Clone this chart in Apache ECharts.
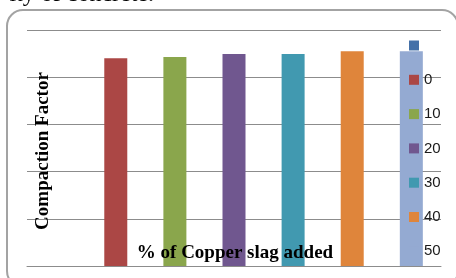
<!DOCTYPE html>
<html>
<head>
<meta charset="utf-8">
<script src="https://cdn.jsdelivr.net/npm/echarts@6/dist/echarts.min.js"></script>
<style>
  html, body { margin: 0; padding: 0; background: #fff; }
  #chart { width: 456px; height: 278px; }
</style>
</head>
<body>
<div id="chart"></div>
<script>
// 数据
const categories = [''];
const seriesNames = [' ', '0', '10', '20', '30', '40', '50'];
const compactionValues = [null, 0.88, 0.886, 0.898, 0.898, 0.91, 0.91];
const seriesColors = ['#4571A8', '#AB4745', '#8AA64C', '#70578F', '#4199B0', '#DF853B', '#94AAD2'];

const chart = echarts.init(document.getElementById('chart'));

const gridColor = '#8c8c8c';
const serif = '"Liberation Serif", "Times New Roman", serif';

const option = {
    animation: false,
    grid: { left: 27, right: 15, top: 30, bottom: 12 },
    xAxis: {
        type: 'category',
        data: categories,
        axisLine: { lineStyle: { color: gridColor, width: 1 } },
        axisTick: { show: false },
        axisLabel: { show: false }
    },
    yAxis: {
        type: 'value',
        min: 0,
        max: 1,
        interval: 0.2,
        axisLine: { show: false },
        axisTick: { show: false },
        axisLabel: { show: false },
        splitLine: { lineStyle: { color: gridColor, width: 1 } }
    },
    legend: {
        orient: 'vertical',
        left: 409,
        top: 38,
        padding: 0,
        icon: 'rect',
        itemWidth: 10,
        itemHeight: 10,
        itemGap: 19.3,
        data: seriesNames,
        textStyle: {
            fontFamily: '"Liberation Sans", Arial, sans-serif',
            fontSize: 15,
            color: '#1a1a1a'
        }
    },
    series: seriesNames.map((name, i) => ({
        name: name,
        type: 'bar',
        data: [compactionValues[i] === null ? '-' : compactionValues[i]],
        barWidth: 23,
        barGap: '157%',
        itemStyle: { color: seriesColors[i] }
    })),
    graphic: [
        // 外框
        {
            type: 'rect',
            shape: { x: 7, y: 10, width: 451, height: 277, r: 16 },
            style: { fill: 'none', stroke: '#a3a3a3', lineWidth: 2 },
            z: 10
        },
        // 上方被裁切的正文
        {
            type: 'text',
            x: 154,
            y: -5,
            style: {
                text: 'ity of concrete.',
                font: '24px ' + serif,
                fill: '#000',
                align: 'right',
                verticalAlign: 'middle'
            }
        },
        // 纵轴标题
        {
            type: 'text',
            x: 43,
            y: 151,
            rotation: Math.PI / 2,
            style: {
                text: 'Compaction Factor',
                font: 'bold 19px ' + serif,
                fill: '#000',
                align: 'center',
                verticalAlign: 'middle'
            },
            z: 10
        },
        // 横轴标题
        {
            type: 'text',
            x: 235,
            y: 253.5,
            style: {
                text: '% of Copper slag added',
                font: 'bold 19px ' + serif,
                fill: '#000',
                align: 'center',
                verticalAlign: 'middle'
            },
            z: 10
        }
    ]
};

chart.setOption(option);
</script>
</body>
</html>
